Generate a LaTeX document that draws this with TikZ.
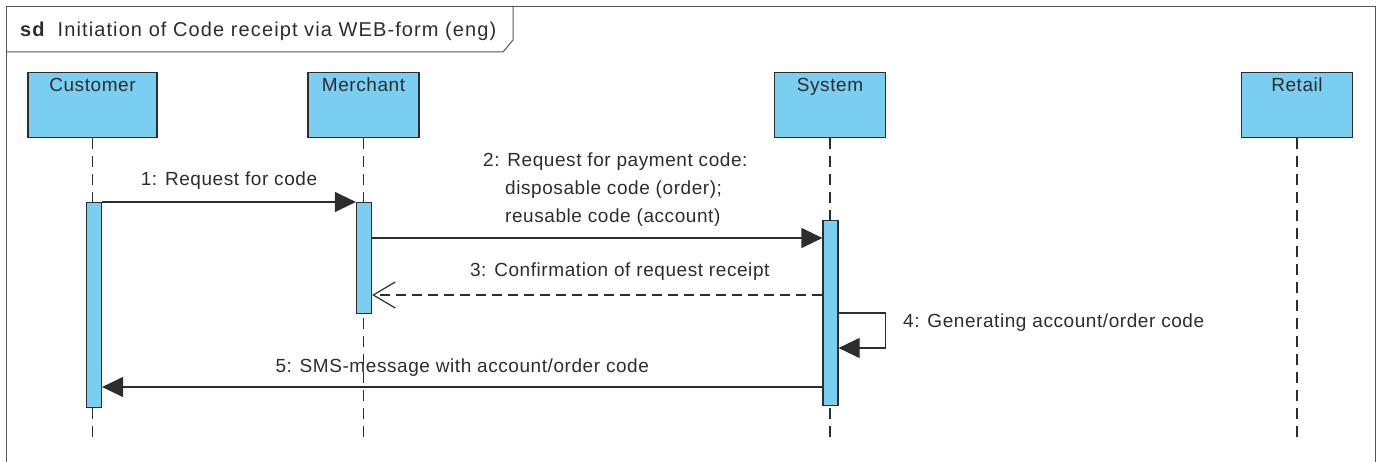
\documentclass[tikz,border=0pt]{standalone}
\usepackage{fontspec}
\setmainfont{Liberation Sans}
\newfontfamily\diagfont[LetterSpace=3]{Liberation Sans}
\newfontfamily\titlefont[LetterSpace=5.5]{Liberation Sans}
\usetikzlibrary{arrows.meta,positioning}
\definecolor{lifeblue}{RGB}{122,206,242}
\definecolor{ink}{RGB}{45,45,45}
\tikzset{
	frame/.style={draw=ink!80,line width=1pt},
	lbl/.style={font=\diagfont\fontsize{19}{28}\selectfont,text=ink,inner sep=0pt},
	head/.style={draw=ink,fill=lifeblue,line width=1.2pt,minimum width=111pt,minimum height=65pt,anchor=north,
		label={[lbl,anchor=north,yshift=-6pt]north:#1}},
	act/.style={draw=ink,fill=lifeblue,line width=1.2pt,minimum width=15pt,inner sep=0pt,anchor=north},
	life/.style={draw=ink,line width=1.2pt,dash pattern=on 11pt off 7pt},
	msg/.style={draw=ink,line width=1.2pt,-{Triangle[length=21pt,width=20pt]}},
	reply/.style={draw=ink,line width=1.2pt,dash pattern=on 10pt off 6pt,-{Straight Barb[length=22pt,width=26pt]}}
}
\begin{document}
\begin{tikzpicture}[x=1pt,y=-1pt]
	\useasboundingbox (0,0) rectangle (1381,462);
	% frame
	\draw[frame] (6,462)--(6,7)--(1375,7)--(1375,462);
	\draw[frame] (6,52)--(503,52)--(513,40)--(513,7);
	\node[text=ink,inner sep=0pt,anchor=base west,font=\titlefont\fontsize{20}{24}\selectfont] (title) at (20,37) {\textbf{sd}\hspace{12pt}Initiation of Code receipt via WEB-form (eng)};
	% lifelines
	\node[head=Customer,minimum width=129pt] (cust) at (92.5,72) {};
	\node[head=Merchant] (merch) at (363.5,72) {};
	\node[head=System] (sys) at (830,72) {};
	\node[head=Retail] (ret) at (1297,72) {};
	\coordinate (bot) at (0,438);
	\foreach \n in {cust,merch,sys,ret} \draw[life] (\n.south)--(\n.south |- bot);
	% activations
	\node[act,minimum height=205pt] (custact) at (94,202) {};
	\node[act,minimum height=111pt] (merchact) at (364,202) {};
	\node[act,minimum height=185pt] (sysact) at (830.5,220) {};
	% messages
	\draw[msg] (custact.north east)--(merchact.north west) node[lbl,midway,above=12pt] (m1) {1: Request for code};
	\draw[msg] (merchact.east |- 0,238)--(sysact.west |- 0,238);
	\node[lbl,anchor=north west,align=left] (m2) at (483,153) {2: Request for payment code:\\\hspace*{22pt}disposable code (order);\\\hspace*{22pt}reusable code (account)};
	\draw[reply] (sysact.west |- 0,295)--(merchact.east |- 0,295) node[lbl,pos=0.45,above=14pt] (m3) {3: Confirmation of request receipt};
	\draw[msg] (sysact.east |- 0,313)--++(47,0)--++(0,35)--(sysact.east |- 0,348);
	\node[lbl,anchor=west] (m4) at (903,323) {4: Generating account/order code};
	\draw[msg] (sysact.west |- 0,387)--(custact.east |- 0,387) node[lbl,midway,above=10pt] (m5) {5: SMS-message with account/order code};
\end{tikzpicture}
\end{document}
